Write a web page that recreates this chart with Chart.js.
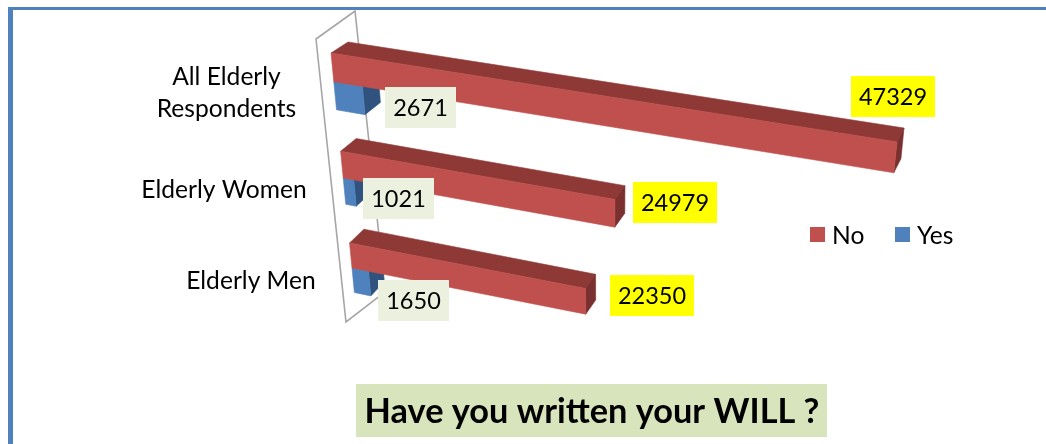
<!DOCTYPE html>
<html><head><meta charset="utf-8">
<style>
html,body{margin:0;padding:0;background:#fff;width:1046px;height:444px;overflow:hidden}
#frame{position:absolute;left:8px;top:7px;right:0;bottom:0;border-top:3px solid #4f81bd;border-left:5px solid #4f81bd}
canvas{position:absolute;left:0;top:0}
</style>
<script src="https://cdn.jsdelivr.net/npm/chart.js@4"></script>
</head><body>
<div id="frame"></div>
<canvas id="c" width="1046" height="444"></canvas>
<script>
const categories = [["All Elderly","Respondents"],["Elderly Women"],["Elderly Men"]];
const noValues = [47329,24979,22350];
const yesValues = [2671,1021,1650];
const chartTitle = "Have you written your WILL ?";

const FONT = 'Lato';
// camera: where the plot's corners land in the picture (front and back planes of the bars)
const frontQuad = [[331,53],[897,142],[352,268],[873,371]];
const backQuad  = [[348,42],[904,128],[366,254],[881,357]];
const wallPath = [[316,39],[355,11],[385,292],[346,322]];
const catLabelPos = [[226.5,[77,109]],[224,[190]],[251,[281]]];
const noBoxes  = [[851,76,84,41],[633,182,84,41],[610,275,84,41]];
const yesBoxes = [[385,87,71,41],[363,178,71,41],[378,280,71,41]];

function solveH(src,dst){
  const A=[],b=[];
  for(let i=0;i<4;i++){const [x,y]=src[i],[X,Y]=dst[i];
    A.push([x,y,1,0,0,0,-x*X,-y*X]);b.push(X);
    A.push([0,0,0,x,y,1,-x*Y,-y*Y]);b.push(Y);}
  const n=8;
  for(let i=0;i<n;i++){
    let p=i;for(let r=i+1;r<n;r++)if(Math.abs(A[r][i])>Math.abs(A[p][i]))p=r;
    [A[i],A[p]]=[A[p],A[i]];[b[i],b[p]]=[b[p],b[i]];
    for(let r=0;r<n;r++){if(r===i)continue;const f=A[r][i]/A[i][i];
      for(let c=i;c<n;c++)A[r][c]-=f*A[i][c];b[r]-=f*b[i];}
  }
  const h=b.map((v,i)=>v/A[i][i]);
  return (x,y)=>{const w=h[6]*x+h[7]*y+1;return [(h[0]*x+h[1]*y+h[2])/w,(h[3]*x+h[4]*y+h[5])/w];};
}
function poly(ctx,pts,color){
  ctx.beginPath();pts.forEach((p,i)=>i?ctx.lineTo(p[0],p[1]):ctx.moveTo(p[0],p[1]));ctx.closePath();
  ctx.fillStyle=color;ctx.strokeStyle=color;ctx.lineWidth=0.6;ctx.fill();ctx.stroke();
}
function textBox(ctx,box,txt,bg){
  ctx.fillStyle=bg;ctx.fillRect(box[0],box[1],box[2],box[3]);
  ctx.fillStyle='#000';ctx.font='23.5px '+FONT;ctx.textAlign='center';ctx.textBaseline='middle';
  ctx.fillText(txt,box[0]+box[2]/2,box[1]+box[3]/2+1);
}
const shades={
  No:{front:'#c0504d',top:'#8f3937',side:'#7a302e'},
  Yes:{front:'#4f81bd',top:'#3a6090',side:'#30527f'}
};
const scene={
  id:'scene',
  beforeDatasetDraw(){return false;},
  beforeDatasetsDraw(chart){
    const ctx=chart.ctx;
    ctx.save();ctx.strokeStyle='#a6a6a6';ctx.lineWidth=1.6;ctx.beginPath();
    wallPath.forEach((p,i)=>i?ctx.lineTo(p[0],p[1]):ctx.moveTo(p[0],p[1]));ctx.closePath();ctx.stroke();ctx.restore();
  },
  afterDatasetsDraw(chart){
    const ctx=chart.ctx,xs=chart.scales.x;
    const no=chart.getDatasetMeta(0).data,yes=chart.getDatasetMeta(1).data;
    const u0=xs.getPixelForValue(0),u1=xs.getPixelForValue(Math.max(...noValues));
    const vTop=no[0].y-no[0].height/2,vBot=no[2].y+no[2].height/2;
    const src=[[u0,vTop],[u1,vTop],[u0,vBot],[u1,vBot]];
    const F=solveH(src,frontQuad),B=solveH(src,backQuad);
    const bar=(el,s)=>{
      const a=el.y-el.height/2,b=el.y+el.height/2,l=el.base,r=el.x;
      poly(ctx,[F(l,a),B(l,a),B(r,a),F(r,a)],s.top);
      poly(ctx,[F(r,a),B(r,a),B(r,b),F(r,b)],s.side);
      poly(ctx,[F(l,a),F(r,a),F(r,b),F(l,b)],s.front);
    };
    ctx.save();
    for(let i=0;i<no.length;i++){bar(yes[i],shades.Yes);bar(no[i],shades.No);}
    // value labels
    for(let i=0;i<no.length;i++){
      textBox(ctx,noBoxes[i],String(noValues[i]),'#ffff00');
      textBox(ctx,yesBoxes[i],String(yesValues[i]),'#ebf1de');
    }
    // category labels
    ctx.fillStyle='#000';ctx.font='24.6px '+FONT;ctx.textAlign='center';ctx.textBaseline='middle';
    categories.forEach((lines,i)=>lines.forEach((t,j)=>ctx.fillText(t,catLabelPos[i][0],catLabelPos[i][1][j])));
    // legend
    ctx.textAlign='left';
    const lx=[810,895];
    chart.data.datasets.forEach((d,i)=>{
      ctx.fillStyle=d.backgroundColor;ctx.fillRect(lx[i],227,15,15);
      ctx.fillStyle='#000';ctx.font='24.6px '+FONT;ctx.fillText(d.label,lx[i]+22,236);
    });
    // title
    ctx.fillStyle='#d8e4bc';ctx.fillRect(356,384,471,53);
    ctx.fillStyle='#000';ctx.font='bold 34.3px '+FONT;ctx.textAlign='center';
    ctx.fillText(chartTitle,592,412);
    ctx.restore();
  }
};
new Chart(document.getElementById('c'),{
  type:'bar',
  data:{labels:categories,datasets:[
    {label:'No',data:noValues,backgroundColor:'#c0504d'},
    {label:'Yes',data:yesValues,backgroundColor:'#4f81bd'}
  ]},
  options:{
    indexAxis:'y',responsive:false,animation:false,
    barPercentage:1,categoryPercentage:0.57,
    layout:{padding:0},
    scales:{
      x:{display:false,min:0,max:50000},
      y:{display:false}
    },
    plugins:{legend:{display:false},tooltip:{enabled:false},title:{display:false}}
  },
  plugins:[scene]
});
</script>
</body></html>
